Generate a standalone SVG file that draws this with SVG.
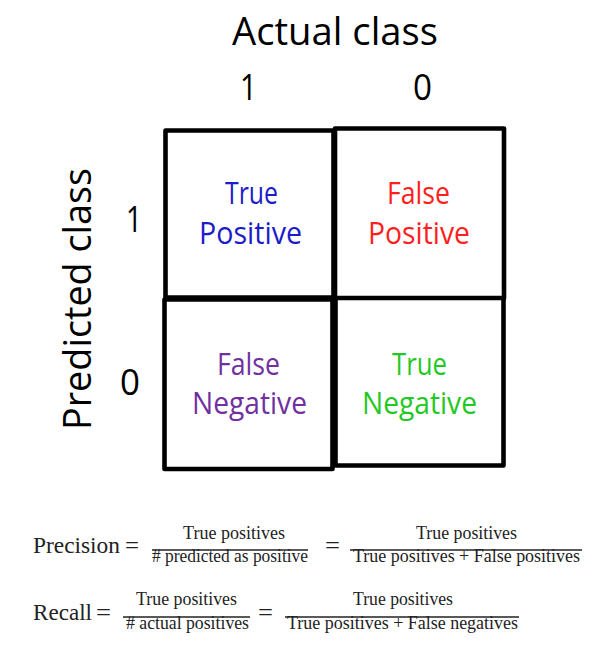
<svg xmlns="http://www.w3.org/2000/svg" width="612" height="650" viewBox="0 0 612 650">
<style>
.hd{font-family:"Open Sans","Noto Sans","DejaVu Sans",sans-serif;fill:#000;}
.cell{fill:#fff;stroke:#000;stroke-width:4.6;stroke-linejoin:round;}
.lbl{font-family:"Open Sans","Noto Sans","DejaVu Sans",sans-serif;font-size:31px;text-anchor:start;}
.m{font-family:"Liberation Serif","Times New Roman",serif;fill:#222;}
.big{font-size:23px;}
.sm{font-size:18.5px;}
.bar{stroke:#222;stroke-width:1.3;}
</style>
<rect width="612" height="650" fill="#fff"/>
<g id="headers">
<text class="hd" x="232" y="45" font-size="38" textLength="206" lengthAdjust="spacingAndGlyphs">Actual class</text>
<text class="hd" x="240" y="100" font-size="36" textLength="17" lengthAdjust="spacingAndGlyphs">1</text>
<text class="hd" x="413" y="100" font-size="36" textLength="19" lengthAdjust="spacingAndGlyphs">0</text>
<text class="hd" transform="translate(91,430) rotate(-90)" x="0" y="0" font-size="38" textLength="262" lengthAdjust="spacingAndGlyphs">Predicted class</text>
<text class="hd" x="126" y="232" font-size="36" textLength="16" lengthAdjust="spacingAndGlyphs">1</text>
<text class="hd" x="120" y="395" font-size="36" textLength="20" lengthAdjust="spacingAndGlyphs">0</text>
</g>
<g id="tp">
<rect class="cell" x="165.5" y="130.5" width="168" height="167"/>
<text class="lbl" fill="#1c1cc8" x="225" y="204" textLength="53" lengthAdjust="spacingAndGlyphs">True</text>
<text class="lbl" fill="#1c1cc8" x="199" y="244" textLength="103" lengthAdjust="spacingAndGlyphs">Positive</text>
</g>
<g id="fp">
<rect class="cell" x="335" y="128.5" width="169" height="170"/>
<text class="lbl" fill="#ff1f1f" x="387" y="204" textLength="63" lengthAdjust="spacingAndGlyphs">False</text>
<text class="lbl" fill="#ff1f1f" x="368" y="244" textLength="102" lengthAdjust="spacingAndGlyphs">Positive</text>
</g>
<g id="fn">
<rect class="cell" x="164.5" y="299.5" width="168" height="169.5"/>
<text class="lbl" fill="#7030a0" x="217" y="375" textLength="63" lengthAdjust="spacingAndGlyphs">False</text>
<text class="lbl" fill="#7030a0" x="192" y="414" textLength="115" lengthAdjust="spacingAndGlyphs">Negative</text>
</g>
<g id="tn">
<rect class="cell" x="335.5" y="298" width="168" height="167.5"/>
<text class="lbl" fill="#24c824" x="392" y="375" textLength="55" lengthAdjust="spacingAndGlyphs">True</text>
<text class="lbl" fill="#24c824" x="362" y="414" textLength="115" lengthAdjust="spacingAndGlyphs">Negative</text>
</g>
<g id="precision">
<text class="m big" x="33" y="553" textLength="87" lengthAdjust="spacingAndGlyphs">Precision</text>
<text class="m big" x="125" y="553" textLength="14" lengthAdjust="spacingAndGlyphs">=</text>
<text class="m sm" x="183" y="539" textLength="102" lengthAdjust="spacingAndGlyphs">True positives</text>
<line class="bar" x1="152" y1="550" x2="308" y2="550"/>
<text class="m sm" x="152" y="562" textLength="156" lengthAdjust="spacingAndGlyphs"># predicted as positive</text>
<text class="m big" x="325" y="553" textLength="15" lengthAdjust="spacingAndGlyphs">=</text>
<text class="m sm" x="416" y="539" textLength="101" lengthAdjust="spacingAndGlyphs">True positives</text>
<line class="bar" x1="350" y1="550" x2="582" y2="550"/>
<text class="m sm" x="353" y="562" textLength="227" lengthAdjust="spacingAndGlyphs">True positives + False positives</text>
</g>
<g id="recall">
<text class="m big" x="33" y="620" textLength="59" lengthAdjust="spacingAndGlyphs">Recall</text>
<text class="m big" x="96" y="620" textLength="15" lengthAdjust="spacingAndGlyphs">=</text>
<text class="m sm" x="136" y="605" textLength="101" lengthAdjust="spacingAndGlyphs">True positives</text>
<line class="bar" x1="123" y1="617" x2="250" y2="617"/>
<text class="m sm" x="126" y="629" textLength="123" lengthAdjust="spacingAndGlyphs"># actual positives</text>
<text class="m big" x="258" y="620" textLength="15" lengthAdjust="spacingAndGlyphs">=</text>
<text class="m sm" x="353" y="605" textLength="100" lengthAdjust="spacingAndGlyphs">True positives</text>
<line class="bar" x1="285" y1="617" x2="519" y2="617"/>
<text class="m sm" x="287" y="629" textLength="231" lengthAdjust="spacingAndGlyphs">True positives + False negatives</text>
</g>
</svg>
